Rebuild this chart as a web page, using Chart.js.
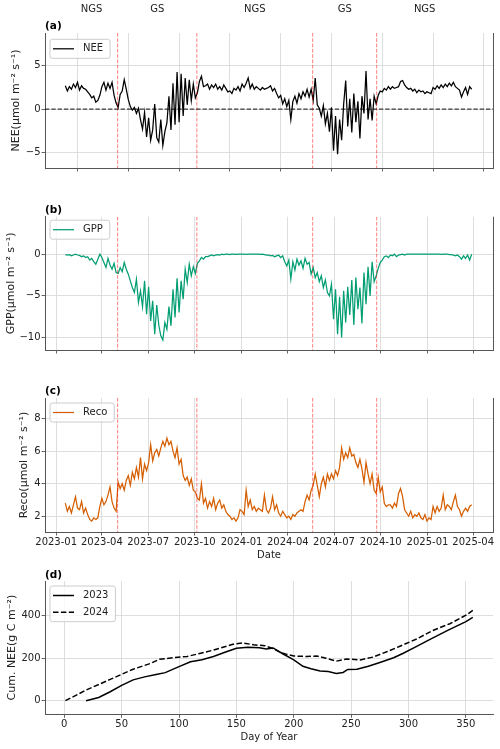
<!DOCTYPE html>
<html lang="en">
<head>
<meta charset="UTF-8">
<title>NEE, GPP, Reco and cumulative NEE</title>
<script src="https://cdn.jsdelivr.net/npm/chart.js"></script>
<style>
  body { margin: 0; background: #fff; }
  #page { position: relative; width: 500px; height: 749px; }
  canvas { position: absolute; left: 0; }
</style>
</head>
<body>
<div id="page">
  <canvas id="neeChart" width="500" height="180" style="top:0"></canvas>
  <canvas id="gppChart" width="500" height="180" style="top:180px"></canvas>
  <canvas id="recoChart" width="500" height="205" style="top:360px"></canvas>
  <canvas id="cumChart" width="500" height="184" style="top:565px"></canvas>
</div>
<script>
// fluxes, one value every 4 days from 2023-01-19
const seriesStart = '2023-01-19';
const seriesStep = 4;

const nee = [
  2.7, 2.1, 2.6, 2.3, 2.9, 2.5, 3.1, 2.2, 2.7, 2.4,
  2.3, 2.0, 1.7, 1.3, 1.5, 0.8, 1.0, 1.6, 2.6, 3.1,
  2.2, 3.0, 2.4, 3.1, 1.6, 0.7, 0.2, 1.7, 2.1, 3.4,
  2.3, 1.1, 0.3, -0.1, 0.2, -0.5, 0.1, -1.2, -2.3, -0.4,
  -3.2, -1.0, -3.6, -2.4, 0.6, -3.3, -3.8, -1.2, -4.2, -2.6,
  -1.6, 1.5, -2.4, 3.0, -1.8, 4.3, -1.5, 4.1, -0.8, 3.6,
  0.5, 3.4, 1.0, 2.9, 1.3, 1.9, 3.2, 3.8, 2.6, 2.7,
  2.9, 2.3, 2.8, 2.5, 2.9, 2.3, 2.6, 2.2, 2.8, 2.4,
  2.0, 2.1, 1.8, 2.4, 2.2, 2.6, 2.1, 2.9, 2.5, 3.0,
  3.6, 2.4, 2.9, 2.3, 2.6, 2.4, 2.2, 2.5, 2.3, 2.4,
  2.5, 2.7, 2.1, 2.4, 1.8, 1.3, 1.6, 0.6, 1.2, 0.3,
  1.0, -1.2, 0.9, 1.5, 0.7, 1.8, 1.2, 2.0, 1.5, 2.3,
  1.4, 2.3, 1.0, 3.6, 0.5, 0.1, -0.8, 0.4, -1.7, -0.5,
  -2.6, 0.2, -4.8, -0.8, -5.2, -1.2, -3.6, 0.6, 3.3, -2.0,
  1.2, -2.7, 1.8, -1.5, 0.9, -3.4, 1.5, -0.5, 4.4, -1.2,
  1.2, -1.3, 1.5, 0.6, 1.6, 2.1, 2.0, 2.4, 2.2, 2.6,
  2.3, 2.6, 2.4, 2.5, 2.6, 3.2, 3.3, 2.8, 2.5, 2.3,
  2.4, 2.1, 2.3, 1.9, 2.2, 2.0, 2.1, 1.8, 2.0, 1.9,
  1.8, 2.5, 2.3, 2.7, 2.4, 2.8, 2.5, 2.9, 2.6, 3.0,
  2.7, 3.1, 2.6, 2.4, 2.2, 1.4, 2.0, 2.5, 1.7, 2.6,
  2.3
];

const gpp = [
  -0.05, -0.1, -0.05, -0.2, -0.1, 0.0, -0.1, -0.15, -0.3, -0.2,
  -0.4, -0.3, -0.7, -0.5, -0.9, -1.2, -0.6, 0.0, -0.4, -1.0,
  -1.6, -0.5, -1.3, -1.8, -1.1, -2.2, -2.3, -1.6, -2.1, -1.0,
  -1.8, -2.4, -3.2, -4.0, -4.6, -3.0, -5.8, -4.4, -6.3, -3.2,
  -7.2, -3.9, -8.0, -5.6, -9.6, -6.1, -8.5, -9.8, -10.3, -8.2,
  -9.0, -6.3, -8.6, -4.2, -7.6, -2.9, -7.0, -3.2, -5.4, -1.8,
  -3.4, -1.2, -2.6, -1.5, -2.3, -1.1, -0.8, -0.4, -0.6, -0.3,
  -0.3, -0.2, -0.1, -0.2, -0.1, -0.05, -0.1, 0.0, -0.05, 0.0,
  0.0, -0.05, 0.0, 0.0, -0.02, 0.0, 0.0, 0.0, 0.0, -0.02,
  0.0, 0.0, 0.0, 0.0, 0.0, 0.0, -0.02, 0.0, -0.05, -0.1,
  -0.1, -0.2, -0.15, -0.3, -0.2, -0.1, -0.4, -0.2, -0.9, -1.4,
  -0.7, -3.0, -0.9, -1.9, -0.6, -1.3, -0.8, -1.7, -0.5, -1.2,
  -1.0, -2.4, -1.6, -2.8, -2.2, -3.3, -2.6, -4.0, -3.1, -4.6,
  -5.0, -3.6, -7.8, -4.2, -9.6, -5.1, -10.0, -4.4, -8.2, -3.9,
  -7.3, -3.1, -8.5, -2.8, -6.6, -4.0, -8.3, -2.2, -6.0, -1.5,
  -5.0, -0.9, -3.3, -2.6, -1.7, -1.0, -0.7, -0.3, -0.2, -0.4,
  -0.1, -0.2, 0.0, -0.3, -0.1, -0.05, 0.0, -0.1, 0.0, 0.0,
  0.0, 0.0, 0.0, 0.0, 0.0, 0.0, 0.0, 0.0, 0.0, 0.0,
  0.0, 0.0, 0.0, 0.0, 0.0, -0.02, 0.0, 0.0, 0.0, -0.05,
  -0.05, -0.1, -0.2, -0.1, -0.3, -0.6, -0.2, -0.5, -0.1, -0.7,
  0.0
];

const reco = [
  2.8, 2.3, 2.6, 2.2, 2.7, 3.2, 2.5, 2.4, 2.9, 2.2,
  2.5, 2.1, 1.8, 1.7, 1.9, 1.8, 1.9, 2.6, 3.1, 2.7,
  2.9, 3.3, 3.8, 2.9, 2.5, 2.3, 4.1, 3.7, 4.0, 3.6,
  4.2, 4.5, 3.9, 4.7, 4.3, 5.0, 4.4, 5.6, 4.3, 5.2,
  4.8, 5.3, 6.4, 5.4, 5.9, 6.1, 5.7, 6.2, 6.6, 6.3,
  6.8, 6.4, 6.6, 6.0, 5.6, 6.2, 5.2, 5.5, 4.5, 4.2,
  4.4, 3.9, 4.3, 3.6, 3.5, 3.1, 3.0, 4.0, 2.8, 3.1,
  2.5, 2.9, 2.6, 3.1, 2.4, 2.8, 3.0, 2.5, 2.7, 2.3,
  2.1, 2.0, 1.8, 1.9, 1.7, 1.9, 2.4, 2.3, 2.1, 3.6,
  2.6, 3.0, 2.4, 2.6, 2.3, 2.5, 2.4, 2.3, 3.3, 2.4,
  2.2, 2.5, 3.2, 2.4, 2.7, 2.2, 2.0, 2.3, 2.1, 1.9,
  2.0, 1.8, 2.1, 2.0, 2.2, 2.3, 2.4, 2.3, 2.9, 3.3,
  3.0, 3.6, 3.9, 4.6, 3.9, 3.2, 4.0, 4.4, 3.8, 4.6,
  4.2, 4.6, 4.3, 4.8, 4.5, 5.0, 6.2, 5.5, 5.9, 5.6,
  6.2, 5.7, 5.8, 5.3, 5.0, 5.5, 4.9, 4.1, 5.3, 4.6,
  4.0, 4.6, 3.6, 3.4, 4.4, 3.5, 3.8, 2.8, 2.6, 2.7,
  2.7, 2.5, 2.8, 2.6, 3.4, 3.7, 3.2, 2.4, 2.2, 2.0,
  2.3, 1.9, 2.1, 2.0, 2.2, 1.9, 1.8, 2.1, 1.7, 1.9,
  1.8, 2.6, 2.2, 2.6, 2.3, 2.5, 3.3, 2.4, 2.7, 2.6,
  2.4, 2.9, 3.3, 2.6, 2.4, 2.0, 2.3, 2.5, 2.3, 2.6,
  2.7
];

// growing season limits (red dashed lines) and the season names above panel (a)
const seasonBounds = ['2023-01-19', '2023-05-02', '2023-10-05', '2024-05-20', '2024-09-23', '2025-03-31'];
const seasonNames = ['NGS', 'GS', 'NGS', 'GS', 'NGS'];
const seasonLines = ['2023-05-02', '2023-10-05', '2024-05-20', '2024-09-23'];

// tick labels
const dateTicks = ['2023-01', '2023-04', '2023-07', '2023-10', '2024-01', '2024-04', '2024-07', '2024-10', '2025-01', '2025-04'];
const neeDayTicks = [19400, 19500, 19600, 19700, 19800, 19900, 20000, 20100, 20200]; // days since 1970-01-01
const neeTicks = [-5, 0, 5];
const gppTicks = [-10, -5, 0];
const recoTicks = [2, 4, 6, 8];
const cumTicks = [0, 200, 400];
const doyTicks = [0, 50, 100, 150, 200, 250, 300, 350];

// cumulative NEE by day of year
const doy2023 = [19, 30, 40, 50, 60, 70, 80, 88, 100, 110, 120, 130, 140, 150, 160, 170, 176, 182, 190, 200, 208, 215, 223, 230, 237, 243, 247, 255, 265, 275, 287, 295, 305, 320, 335, 350, 356];
const cum2023 = [0, 15, 42, 72, 98, 112, 123, 132, 160, 183, 193, 208, 228, 247, 251, 249, 243, 248, 222, 192, 162, 150, 140, 137, 128, 133, 147, 148, 162, 180, 202, 222, 250, 292, 333, 372, 392];
const doy2024 = [1, 19, 40, 60, 75, 83, 95, 107, 118, 130, 147, 155, 165, 175, 182, 188, 194, 200, 211, 220, 228, 237, 246, 258, 269, 281, 292, 307, 321, 336, 351, 356];
const cum2024 = [0, 50, 100, 148, 175, 195, 202, 208, 222, 238, 265, 272, 263, 258, 245, 228, 218, 210, 208, 210, 200, 186, 196, 192, 205, 230, 255, 290, 330, 362, 405, 425];

const FONT = "'DejaVu Sans', sans-serif";
const SPINE = '#555555';
Chart.defaults.font.family = FONT;
Chart.defaults.font.size = 10;
Chart.defaults.color = '#222222';

function dayNum(s) {
  const d = s.length > 7 ? +s.slice(8, 10) : 1;
  return Date.UTC(+s.slice(0, 4), +s.slice(5, 7) - 1, d) / 864e5;
}
const fmt = v => (v < 0 ? '\u2212' + Math.abs(v) : String(v));
const dateLabel = {};
dateTicks.forEach(t => { dateLabel[dayNum(t)] = t; });

const x0 = dayNum(seriesStart);
const seriesX = nee.map((_, i) => x0 + seriesStep * i);
const pts = (xs, ys) => ys.map((v, i) => ({ x: xs[i], y: v }));

// extra drawing: reference lines, right spine, panel letter, seasons, legend
const decor = {
  id: 'decor',
  afterDatasetsDraw(chart, args, o) {
    const { ctx, chartArea: a, scales: { x, y } } = chart;
    ctx.save();
    ctx.beginPath();
    ctx.rect(a.left, a.top, a.right - a.left, a.bottom - a.top);
    ctx.clip();
    if (o.marks) {
      ctx.strokeStyle = 'rgba(255,0,0,0.5)';
      ctx.lineWidth = 1;
      ctx.setLineDash([3.7, 1.6]);
      o.marks.forEach(d => {
        const px = x.getPixelForValue(dayNum(d));
        ctx.beginPath(); ctx.moveTo(px, a.top); ctx.lineTo(px, a.bottom); ctx.stroke();
      });
    }
    if (o.zeroLine) {
      const py = y.getPixelForValue(0);
      ctx.strokeStyle = 'rgba(0,0,0,0.75)';
      ctx.lineWidth = 1.2;
      ctx.setLineDash([4.4, 1.9]);
      ctx.beginPath(); ctx.moveTo(a.left, py); ctx.lineTo(a.right, py); ctx.stroke();
    }
    ctx.restore();
  },
  afterDraw(chart, args, o) {
    const { ctx, chartArea: a, scales: { x } } = chart;
    ctx.save();
    if (o.rightSpine) {
      ctx.strokeStyle = SPINE; ctx.lineWidth = 1;
      ctx.beginPath(); ctx.moveTo(a.right + 0.5, a.top); ctx.lineTo(a.right + 0.5, a.bottom); ctx.stroke();
    }
    ctx.fillStyle = '#000';
    ctx.textBaseline = 'middle';
    ctx.textAlign = 'left';
    ctx.font = 'bold 10.5px ' + FONT;
    ctx.fillText(o.label, a.left, o.labelY);
    if (o.seasons) {
      ctx.font = '10px ' + FONT;
      ctx.textAlign = 'center';
      ctx.fillStyle = '#222';
      seasonNames.forEach((s, i) => {
        const mid = (dayNum(seasonBounds[i]) + dayNum(seasonBounds[i + 1])) / 2;
        ctx.fillText(s, x.getPixelForValue(mid), 9);
      });
    }
    // legend box
    const sets = chart.data.datasets;
    ctx.font = '10px ' + FONT;
    ctx.textAlign = 'left';
    const tw = Math.max(...sets.map(s => ctx.measureText(s.label).width));
    const bx = a.left + 5, by = a.top + o.legendDy;
    const bw = 33 + tw + 7, bh = 19 + (sets.length - 1) * 16.7, r = 2.5;
    ctx.beginPath();
    ctx.moveTo(bx + r, by);
    ctx.arcTo(bx + bw, by, bx + bw, by + bh, r);
    ctx.arcTo(bx + bw, by + bh, bx, by + bh, r);
    ctx.arcTo(bx, by + bh, bx, by, r);
    ctx.arcTo(bx, by, bx + bw, by, r);
    ctx.closePath();
    ctx.fillStyle = 'rgba(255,255,255,0.8)';
    ctx.fill();
    ctx.strokeStyle = '#cccccc'; ctx.lineWidth = 1;
    ctx.stroke();
    sets.forEach((s, i) => {
      const cy = by + 9.5 + i * 16.7;
      ctx.strokeStyle = s.borderColor;
      ctx.lineWidth = s.borderWidth;
      ctx.setLineDash(s.borderDash || []);
      ctx.beginPath(); ctx.moveTo(bx + 3, cy); ctx.lineTo(bx + 24, cy); ctx.stroke();
      ctx.setLineDash([]);
      ctx.fillStyle = '#222';
      ctx.fillText(s.label, bx + 33, cy);
    });
    ctx.restore();
  }
};

function makePanel(id, datasets, o) {
  const xTicks = { maxRotation: 0, autoSkip: false, padding: 1, display: !!o.xFormat };
  if (o.xFormat) xTicks.callback = o.xFormat;
  return new Chart(document.getElementById(id), {
    type: 'line',
    data: { datasets },
    options: {
      animation: false,
      responsive: false,
      events: [],
      layout: { padding: { left: o.padLeft, right: 7, top: o.padTop, bottom: 0 } },
      elements: { point: { radius: 0 }, line: { tension: 0 } },
      scales: {
        x: {
          type: 'linear', min: o.xMin, max: o.xMax,
          afterBuildTicks: s => { s.ticks = o.xTicks.map(v => ({ value: v })); },
          afterFit: s => { s.height = o.xHeight; },
          grid: { color: '#dadada', lineWidth: 0.9, tickLength: 3.5, tickColor: SPINE, tickWidth: 0.9 },
          border: { display: true, color: SPINE, width: 1 },
          ticks: xTicks,
          title: { display: !!o.xTitle, text: o.xTitle || '', padding: { top: 0, bottom: o.xTitlePad || 0 } }
        },
        y: {
          type: 'linear', min: o.yMin, max: o.yMax,
          afterBuildTicks: s => { s.ticks = o.yTicks.map(v => ({ value: v })); },
          afterFit: s => { s.width = 45 - o.padLeft; },
          grid: { color: '#dadada', lineWidth: 0.9, tickLength: 3.5, tickColor: SPINE, tickWidth: 0.9 },
          border: { display: true, color: SPINE, width: 1 },
          ticks: { padding: 1, callback: fmt },
          title: { display: true, text: o.yTitle, padding: 0, font: { size: 11 } }
        }
      },
      plugins: { legend: { display: false }, tooltip: { enabled: false }, decor: o.decor }
    },
    plugins: [decor]
  });
}

const xMin = dayNum('2022-12-10'), xMax = dayNum('2025-05-10');
const dateTickDays = dateTicks.map(dayNum);

makePanel('neeChart', [
  { label: 'NEE', data: pts(seriesX, nee), borderColor: '#000000', borderWidth: 1.25 }
], {
  padLeft: 9.9, padTop: 33, xHeight: 12,
  xMin, xMax, xTicks: neeDayTicks,
  yMin: -6.8, yMax: 8.8, yTicks: neeTicks, yTitle: 'NEE(\u03bcmol m\u207b\u00b2 s\u207b\u00b9)',
  decor: { label: '(a)', labelY: 26.5, seasons: true, marks: seasonLines, zeroLine: true, rightSpine: true, legendDy: 6.3 }
});

makePanel('gppChart', [
  { label: 'GPP', data: pts(seriesX, gpp), borderColor: '#029e73', borderWidth: 1.25 }
], {
  padLeft: 4.2, padTop: 36.7, xHeight: 10,
  xMin, xMax, xTicks: dateTickDays,
  yMin: -11.5, yMax: 4.5, yTicks: gppTicks, yTitle: 'GPP(\u03bcmol m\u207b\u00b2 s\u207b\u00b9)',
  decor: { label: '(b)', labelY: 30, marks: seasonLines, rightSpine: true, legendDy: 3.5 }
});

makePanel('recoChart', [
  { label: 'Reco', data: pts(seriesX, reco), borderColor: '#d55e00', borderWidth: 1.25 }
], {
  padLeft: 17.9, padTop: 38, xHeight: 33,
  xMin, xMax, xTicks: dateTickDays, xFormat: v => dateLabel[v] || '',
  xTitle: 'Date', xTitlePad: 4,
  yMin: 1.03, yMax: 9.27, yTicks: recoTicks, yTitle: 'Reco(\u03bcmol m\u207b\u00b2 s\u207b\u00b9)',
  decor: { label: '(c)', labelY: 31.7, marks: seasonLines, rightSpine: true, legendDy: 5 }
});

makePanel('cumChart', [
  { label: '2023', data: pts(doy2023, cum2023), borderColor: '#000000', borderWidth: 1.5 },
  { label: '2024', data: pts(doy2024, cum2024), borderColor: '#000000', borderWidth: 1.5, borderDash: [5.5, 2.4] }
], {
  padLeft: 5.6, padTop: 16, xHeight: 34.7,
  xMin: -16.8, xMax: 373.6, xTicks: doyTicks, xFormat: v => String(v),
  xTitle: 'Day of Year', xTitlePad: 6,
  yMin: -64, yMax: 563, yTicks: cumTicks, yTitle: 'Cum. NEE(g C m\u207b\u00b2)',
  decor: { label: '(d)', labelY: 10, legendDy: 5 }
});
</script>
</body>
</html>
